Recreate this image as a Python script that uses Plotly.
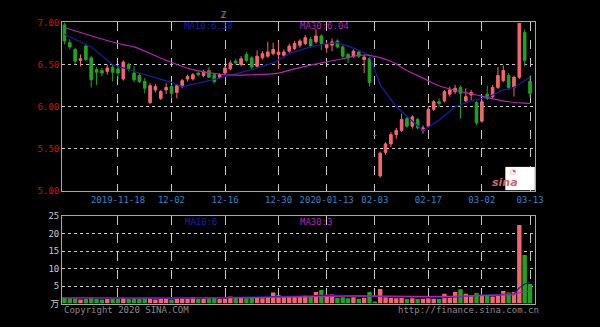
import plotly.graph_objects as go

W, H = 600, 327

# ---------------- data ----------------
dates = (
    ["2019-11-%02d" % d for d in [4, 5, 6, 7, 8, 11, 12, 13, 14, 15, 18, 19, 20, 21, 22, 25, 26, 27, 28, 29]]
    + ["2019-12-%02d" % d for d in [2, 3, 4, 5, 6, 9, 10, 11, 12, 13, 16, 17, 18, 19, 20, 23, 24, 25, 26, 27, 30, 31]]
    + ["2020-01-%02d" % d for d in [2, 3, 6, 7, 8, 9, 10, 13, 14, 15, 16, 17, 20, 21, 22, 23]]
    + ["2020-02-%02d" % d for d in [3, 4, 5, 6, 7, 10, 11, 12, 13, 14, 17, 18, 19, 20, 21, 24, 25, 26, 27, 28]]
    + ["2020-03-%02d" % d for d in [2, 3, 4, 5, 6, 9, 10, 11, 12, 13]]
)

opens = [6.97, 6.76, 6.68, 6.55, 6.72, 6.58, 6.44, 6.43, 6.42, 6.47,
         6.45, 6.33, 6.50, 6.40, 6.37, 6.30, 6.05, 6.20, 6.10, 6.20,
         6.24, 6.17, 6.24, 6.33, 6.33, 6.40, 6.37, 6.43, 6.38, 6.35,
         6.40, 6.45, 6.54, 6.50, 6.62, 6.58, 6.48, 6.58, 6.60, 6.63,
         6.62, 6.61, 6.66, 6.69, 6.73, 6.75, 6.80, 6.77, 6.84, 6.70,
         6.73, 6.78, 6.71, 6.62, 6.60, 6.65, 6.56, 6.57, 5.66, 5.18,
         5.46, 5.56, 5.67, 5.72, 5.86, 5.77, 5.85, 5.72, 5.77, 5.97,
         6.06, 6.07, 6.15, 6.18, 6.23, 6.07, 6.14, 6.05, 5.83, 6.15,
         6.12, 6.23, 6.31, 6.37, 6.23, 6.35, 6.88, 6.30]
highs = [7.00, 6.80, 6.70, 6.62, 6.75, 6.60, 6.47, 6.46, 6.50, 6.50,
         6.48, 6.55, 6.52, 6.48, 6.40, 6.34, 6.28, 6.27, 6.20, 6.28,
         6.26, 6.27, 6.33, 6.38, 6.40, 6.42, 6.44, 6.47, 6.40, 6.40,
         6.48, 6.55, 6.57, 6.60, 6.65, 6.60, 6.67, 6.66, 6.77, 6.76,
         6.77, 6.68, 6.75, 6.78, 6.80, 6.85, 6.83, 6.92, 6.86, 6.78,
         6.81, 6.80, 6.73, 6.64, 6.68, 6.67, 6.62, 6.59, 5.66, 5.47,
         5.58, 5.70, 5.75, 5.92, 5.88, 5.90, 5.87, 5.78, 6.00, 6.08,
         6.10, 6.20, 6.24, 6.26, 6.25, 6.22, 6.20, 6.07, 6.08, 6.25,
         6.26, 6.47, 6.49, 6.40, 6.37, 6.99, 6.92, 6.37]
lows = [6.74, 6.68, 6.50, 6.48, 6.54, 6.23, 6.26, 6.36, 6.38, 6.30,
        6.33, 6.31, 6.42, 6.29, 6.28, 6.16, 6.03, 6.17, 6.08, 6.15,
        6.10, 6.10, 6.22, 6.30, 6.31, 6.36, 6.35, 6.34, 6.28, 6.33,
        6.38, 6.43, 6.50, 6.48, 6.53, 6.45, 6.46, 6.56, 6.58, 6.61,
        6.45, 6.58, 6.64, 6.67, 6.70, 6.73, 6.70, 6.75, 6.67, 6.64,
        6.66, 6.69, 6.58, 6.52, 6.58, 6.58, 6.40, 6.24, 5.66, 5.16,
        5.43, 5.52, 5.62, 5.70, 5.75, 5.74, 5.73, 5.68, 5.75, 5.95,
        6.00, 6.05, 6.12, 6.15, 5.86, 6.05, 6.08, 5.78, 5.81, 6.08,
        6.10, 6.21, 6.29, 6.20, 6.12, 6.33, 6.48, 6.10]
closes = [6.78, 6.71, 6.54, 6.57, 6.56, 6.32, 6.41, 6.40, 6.46, 6.41,
          6.40, 6.53, 6.45, 6.32, 6.30, 6.22, 6.25, 6.24, 6.18, 6.23,
          6.16, 6.25, 6.31, 6.36, 6.38, 6.38, 6.42, 6.35, 6.30, 6.38,
          6.46, 6.52, 6.52, 6.57, 6.55, 6.47, 6.60, 6.63, 6.65, 6.68,
          6.65, 6.65, 6.72, 6.75, 6.78, 6.82, 6.72, 6.84, 6.75, 6.74,
          6.77, 6.71, 6.60, 6.58, 6.66, 6.60, 6.59, 6.29, 5.66, 5.45,
          5.56, 5.67, 5.72, 5.85, 5.77, 5.88, 5.75, 5.75, 5.97, 6.06,
          6.04, 6.18, 6.20, 6.22, 6.16, 6.12, 6.17, 5.81, 6.06, 6.10,
          6.23, 6.37, 6.43, 6.23, 6.35, 6.99, 6.55, 6.16]
volumes = [1.8, 1.5, 1.5, 1.2, 1.4, 1.8, 1.3, 1.2, 1.3, 1.4,
           1.3, 1.6, 1.3, 1.6, 1.4, 1.7, 1.5, 1.2, 1.3, 1.3,
           1.2, 1.4, 1.5, 1.4, 1.9, 1.3, 1.4, 1.5, 1.9, 1.3,
           1.4, 2.0, 1.8, 1.9, 1.5, 1.6, 1.7, 1.5, 1.7, 3.2,
           2.4, 2.1, 2.2, 2.0, 2.1, 2.3, 2.0, 3.3, 3.9, 2.6,
           2.7, 1.7, 1.8, 1.5, 1.8, 1.4, 1.6, 3.3, 0.6, 4.2,
           1.8, 1.7, 1.5, 1.6, 1.3, 1.5, 1.3, 1.4, 1.5, 1.4,
           1.3, 2.8, 1.8, 3.3, 4.1, 2.8, 2.4, 3.0, 2.5, 2.3,
           2.0, 2.2, 3.6, 3.2, 3.3, 22.5, 13.9, 5.6]

# moving-average lines at sample days
ma10_idx = [0, 5, 9, 14, 20, 22, 27, 29, 35, 39, 42, 46, 49, 51, 53, 55, 57, 59, 62, 64, 66, 67, 70, 73, 76, 79, 82, 84, 86, 87]
ma10_val = [6.86, 6.71, 6.50, 6.40, 6.29, 6.24, 6.31, 6.34, 6.44, 6.52, 6.63, 6.71, 6.75, 6.76, 6.72, 6.67, 6.61, 6.26,
            6.00, 5.89, 5.77, 5.72, 5.84, 6.00, 6.07, 6.11, 6.20, 6.23, 6.31, 6.35]
ma30_idx = [0, 10, 13, 19, 24, 30, 35, 40, 43, 48, 52, 55, 57, 61, 64, 67, 70, 77, 83, 87]
ma30_val = [6.94, 6.75, 6.71, 6.55, 6.44, 6.38, 6.38, 6.40, 6.45, 6.52, 6.57, 6.61, 6.61, 6.54, 6.43, 6.34, 6.25, 6.14,
            6.06, 6.04]
vma10_idx = [0, 20, 40, 50, 60, 70, 78, 84, 85, 86, 87]
vma10_val = [1.7, 1.5, 2.0, 2.4, 2.0, 1.6, 2.4, 2.8, 4.5, 5.6, 6.2]
vma30_idx = [0, 30, 45, 55, 70, 80, 84, 85, 86, 87]
vma30_val = [1.6, 1.6, 1.9, 2.2, 2.0, 2.3, 2.5, 3.1, 3.4, 3.6]

date_ticks = ["2019-11-18", "2019-12-02", "2019-12-16", "2019-12-30", "2020-01-13",
              "2020-02-03", "2020-02-17", "2020-03-02", "2020-03-13"]
date_labels = ["2019-11-18", "12-02", "12-16", "12-30", "2020-01-13", "02-03", "02-17", "03-02", "03-13"]
price_ticks = [5.0, 5.5, 6.0, 6.5, 7.0]
vol_ticks = [0, 5, 10, 15, 20, 25]
vol_labels = ["万", "5", "10", "15", "20", "25"]

# ---------------- styling ----------------
RED = "#f4666e"
GREEN = "#1ea51e"
BLUE = "#1c1ca8"
MAG = "#b424b4"
FONT = "DejaVu Sans Mono, Noto Sans CJK SC, monospace"


def px(x):
    return x / W


def py(y):
    return 1 - y / H


fig = go.Figure()
fig.add_trace(go.Candlestick(
    x=dates, open=opens, high=highs, low=lows, close=closes,
    increasing=dict(line=dict(color=RED, width=1), fillcolor=RED),
    decreasing=dict(line=dict(color=GREEN, width=1), fillcolor=GREEN),
    whiskerwidth=0, xaxis="x", yaxis="y", showlegend=False))
fig.add_trace(go.Scatter(x=[dates[i] for i in ma10_idx], y=ma10_val, mode="lines",
                         line=dict(color=BLUE, width=1.2), xaxis="x", yaxis="y", showlegend=False))
fig.add_trace(go.Scatter(x=[dates[i] for i in ma30_idx], y=ma30_val, mode="lines",
                         line=dict(color=MAG, width=1.2, shape="spline"), xaxis="x", yaxis="y", showlegend=False))

vcolors = [RED if c > o or (c == o and k > 0 and c >= closes[k - 1]) else GREEN
           for k, (o, c) in enumerate(zip(opens, closes))]
fig.add_trace(go.Bar(x=dates, y=volumes, marker=dict(color=vcolors, line=dict(width=0)),
                     xaxis="x2", yaxis="y2", showlegend=False))
fig.add_trace(go.Scatter(x=[dates[i] for i in vma10_idx], y=vma10_val, mode="lines",
                         line=dict(color=BLUE, width=1.2), xaxis="x2", yaxis="y2", showlegend=False))
fig.add_trace(go.Scatter(x=[dates[i] for i in vma30_idx], y=vma30_val, mode="lines",
                         line=dict(color=MAG, width=1.2), xaxis="x2", yaxis="y2", showlegend=False))

xr = [-0.45, 87.9]
common_x = dict(type="category", range=xr, tickmode="array", tickvals=date_ticks,
                showgrid=True, gridcolor="#c8c8c8", griddash="dash", gridwidth=1,
                showline=True, mirror=True, linecolor="#a8a8a8", linewidth=1,
                ticks="", zeroline=False, rangeslider=dict(visible=False),
                domain=[px(63), px(543)], fixedrange=True)

fig.update_layout(
    width=W, height=H, margin=dict(l=0, r=0, t=0, b=0),
    paper_bgcolor="black", plot_bgcolor="black",
    font=dict(family=FONT, size=9, color="#c0c0c0"),
    bargap=0.18,
    xaxis=dict(common_x, anchor="y", ticktext=date_labels, showticklabels=True,
               tickfont=dict(color="#2f86c6", size=9, family=FONT)),
    yaxis=dict(domain=[py(192), py(18)], range=[5.0, 7.0], tickvals=price_ticks,
               tickformat=".2f", tickfont=dict(color="#d01010", size=9, family=FONT),
               showgrid=True, gridcolor="#c8c8c8", griddash="dot", gridwidth=1,
               showline=True, mirror=True, linecolor="#a8a8a8", ticks="", zeroline=False,
               anchor="x", fixedrange=True),
    xaxis2=dict(common_x, anchor="y2", ticktext=date_labels, showticklabels=False),
    yaxis2=dict(domain=[py(308), py(218)], range=[0, 25], tickvals=vol_ticks, ticktext=vol_labels,
                tickfont=dict(color="#c8c8c8", size=9, family=FONT),
                showgrid=True, gridcolor="#c8c8c8", griddash="dot", gridwidth=1,
                showline=True, mirror=True, linecolor="#a8a8a8", ticks="", zeroline=False,
                anchor="x2", fixedrange=True),
)

ann = [
    ("MA10:6.38", 185, 22, BLUE),
    ("MA30:6.04", 303, 22, MAG),
    ("MA10:6", 186, 224, BLUE),
    ("MA30:3", 303, 224, MAG),
    ("Copyright 2020 SINA.COM", 63, 315, "#8a8a8a"),
    ("http://finance.sina.com.cn", 402, 315, "#8a8a8a"),
    ("ℤ", 222, 10, "#b0b0b0"),
]
for t, x, y, c in ann:
    fig.add_annotation(text=t, x=px(x), y=py(y), xref="paper", yref="paper",
                       xanchor="left", yanchor="middle", showarrow=False,
                       font=dict(family=FONT, size=9, color=c))

# sina logo box
fig.add_shape(type="rect", xref="paper", yref="paper", x0=px(513), x1=px(543), y0=py(191), y1=py(167),
              fillcolor="white", line=dict(width=0))
fig.add_annotation(text="<b><i>sina</i></b>", x=px(528), y=py(183), xref="paper", yref="paper",
                   showarrow=False, font=dict(family="DejaVu Sans", size=11, color="#c06a6a"))
fig.add_annotation(text="◔", x=px(526), y=py(172), xref="paper", yref="paper",
                   showarrow=False, font=dict(family="DejaVu Sans", size=7, color="#e05050"))

fig.write_html("out.html")
